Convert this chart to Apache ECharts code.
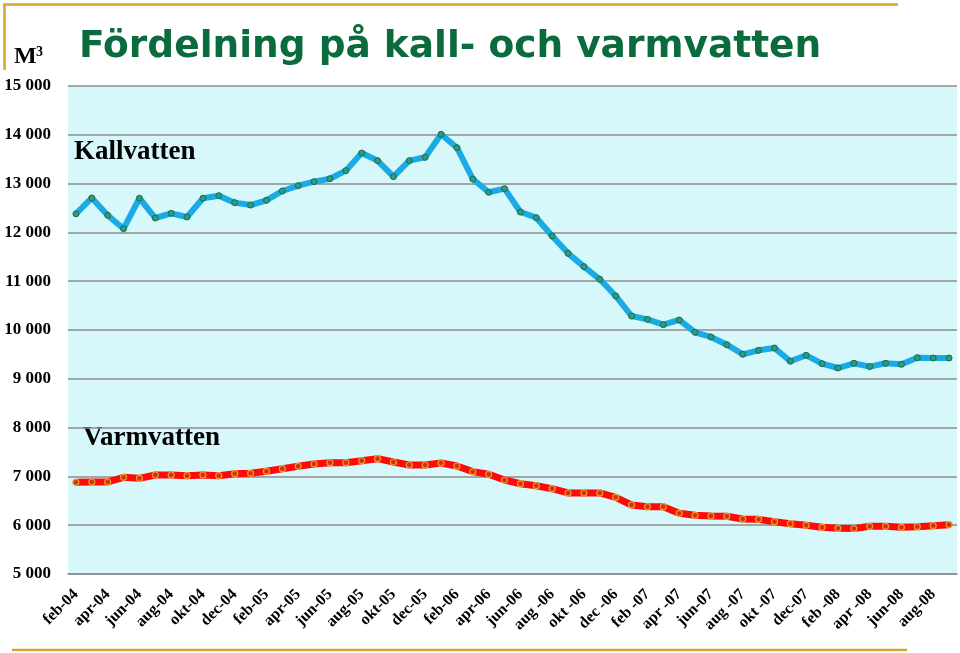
<!DOCTYPE html>
<html><head><meta charset="utf-8">
<script src="https://cdn.jsdelivr.net/npm/echarts@6/dist/echarts.min.js"></script>
<style>html,body{margin:0;padding:0;background:#fff}#c{width:960px;height:653px}</style>
</head><body><div id="c"></div>
<script>
const categories = [
 'feb-04','mar-04','apr-04','maj-04','jun-04','jul-04','aug-04','sep-04','okt-04','nov-04','dec-04','jan-05',
 'feb-05','mar-05','apr-05','maj-05','jun-05','jul-05','aug-05','sep-05','okt-05','nov-05','dec-05','jan-06',
 'feb-06','mar-06','apr-06','maj-06','jun-06','jul-06','aug -06','sep-06','okt -06','nov-06','dec -06','jan-07',
 'feb -07','mar-07','apr -07','maj-07','jun-07','jul-07','aug -07','sep-07','okt -07','nov-07','dec-07','jan-08',
 'feb -08','mar-08','apr -08','maj-08','jun-08','jul-08','aug-08','sep-08'
];
const kallvatten = [
 12380,12705,12350,12076,12700,12295,12390,12315,12700,12752,12610,12560,
 12658,12848,12957,13039,13100,13265,13627,13470,13142,13470,13539,14010,
 13736,13094,12822,12896,12418,12302,11926,11571,11298,11039,10697,10287,
 10219,10109,10205,9953,9857,9699,9502,9584,9631,9359,9482,9310,
 9221,9318,9250,9318,9297,9433,9426,9426
];
const varmvatten = [
 6879,6885,6885,6982,6961,7029,7029,7015,7029,7015,7056,7063,
 7104,7158,7207,7254,7281,7281,7322,7363,7295,7234,7234,7275,
 7213,7097,7043,6926,6850,6809,6748,6660,6660,6660,6571,6414,
 6380,6380,6244,6203,6189,6182,6127,6120,6072,6031,5998,5957,
 5936,5930,5977,5977,5957,5970,5990,6010
];
const yMin = 5000, yMax = 15000, yStep = 1000;

const chart = echarts.init(document.getElementById('c'));
chart.setOption({
  animation: false,
  backgroundColor: '#ffffff',
  title: {
    text: 'Fördelning på kall- och varmvatten',
    left: 74, top: 23,
    textStyle: {fontFamily: 'DejaVu Sans', fontWeight: 'bold', fontSize: 37.5, color: '#0A6B3C'}
  },
  graphic: [
    {type: 'line', shape: {x1: 3, y1: 4.5, x2: 898, y2: 4.5}, style: {stroke: '#D4A62A', lineWidth: 2.5}},
    {type: 'line', shape: {x1: 4.5, y1: 4, x2: 4.5, y2: 70}, style: {stroke: '#D4A62A', lineWidth: 2.5}},
    {type: 'line', shape: {x1: 12, y1: 650, x2: 907, y2: 650}, style: {stroke: '#D4A62A', lineWidth: 2.5}},
    {type: 'text', left: 14, top: 45, style: {text: 'M', font: 'bold 24px "Liberation Serif"', fill: '#000'}},
    {type: 'text', left: 36, top: 45, style: {text: '3', font: 'bold 14px "Liberation Serif"', fill: '#000'}},
    {type: 'text', left: 74, top: 139, style: {text: 'Kallvatten', font: 'bold 27px "Liberation Serif"', fill: '#000'}},
    {type: 'text', left: 83, top: 425, style: {text: 'Varmvatten', font: 'bold 27px "Liberation Serif"', fill: '#000'}}
  ],
  grid: {left: 68, right: 3, top: 86, bottom: 79, show: true, backgroundColor: '#D6F8FA', borderWidth: 0},
  xAxis: {
    type: 'category', data: categories, boundaryGap: true,
    axisLine: {show: true, lineStyle: {color: '#8C8C8C', width: 1.5}},
    axisTick: {show: false},
    axisLabel: {interval: 1, rotate: 45, margin: 18, color: '#000',
      fontFamily: 'Liberation Serif', fontWeight: 'bold', fontSize: 16}
  },
  yAxis: {
    type: 'value', min: yMin, max: yMax, interval: yStep,
    axisLine: {show: false}, axisTick: {show: false},
    splitLine: {lineStyle: {color: '#8C8C8C', width: 1.5}},
    axisLabel: {margin: 17, color: '#000', fontFamily: 'Liberation Serif', fontWeight: 'bold', fontSize: 17,
      formatter: v => v.toString().replace(/\B(?=(\d{3})+(?!\d))/g, ' ')}
  },
  series: [
    {name: 'Kallvatten', type: 'line', data: kallvatten, symbol: 'circle', symbolSize: 6,
      lineStyle: {color: '#1AABE4', width: 6},
      itemStyle: {color: '#2A9C83', borderColor: '#1C6B4E', borderWidth: 1}},
    {name: 'Varmvatten', type: 'line', data: varmvatten, symbol: 'circle', symbolSize: 6,
      lineStyle: {color: '#FF0A0A', width: 7},
      itemStyle: {color: '#D4301C', borderColor: '#E8A020', borderWidth: 1.2}}
  ]
});
</script>
</body></html>
